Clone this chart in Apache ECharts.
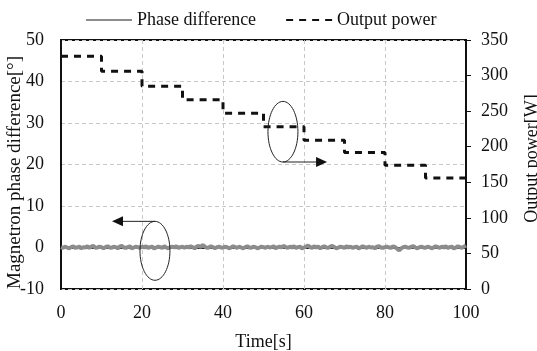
<!DOCTYPE html>
<html><head><meta charset="utf-8">
<script src="https://cdn.jsdelivr.net/npm/echarts@6/dist/echarts.min.js"></script>
<style>html,body{margin:0;padding:0;background:#fff}#c{width:537px;height:351px}</style>
</head><body><div id="c"></div>
<script>
var xTicks = [0, 20, 40, 60, 80, 100];
var powerTimes = [0, 10, 20, 30, 40, 50, 60, 70, 80, 90, 100];
var powerLevels = [327, 306, 285, 266, 247, 228, 209, 192, 174, 156, 156];
var phaseStep = 0.5;
var phaseValues = [
0.1,-0.1,0.2,0.0,-0.2,0.1,0.3,-0.1,0.0,0.2,-0.2,0.1,0.0,0.3,-0.1,0.2,0.4,-0.1,0.0,0.2,0.1,
-0.2,0.1,0.3,0.0,-0.1,0.2,0.1,-0.2,0.2,0.4,0.0,-0.1,0.1,0.3,-0.2,0.0,0.2,0.1,-0.1,0.2,
0.0,0.3,-0.1,0.1,0.2,-0.2,0.0,0.2,0.1,-0.1,0.3,0.0,-0.2,0.1,0.2,0.0,0.3,-0.1,0.1,0.2,
-0.1,0.2,0.0,0.3,0.1,-0.2,0.2,0.4,0.1,0.6,0.2,-0.1,0.0,0.3,0.1,-0.2,0.1,0.2,0.0,-0.1,
0.2,0.1,-0.2,0.0,0.3,0.1,-0.1,0.2,0.0,-0.2,0.1,0.3,0.0,-0.1,0.2,0.1,-0.2,0.0,0.2,0.1,
-0.1,0.2,0.0,0.1,0.3,-0.2,0.1,0.2,0.0,0.4,0.1,-0.1,0.2,0.0,0.3,-0.1,0.1,0.2,-0.2,0.0,
0.2,0.5,0.1,-0.1,0.3,0.0,0.2,-0.2,0.1,0.3,0.0,-0.1,0.2,0.4,0.1,-0.2,0.0,0.2,0.1,-0.1,
0.3,0.0,0.2,-0.1,0.1,0.2,-0.2,0.0,0.3,0.1,-0.1,0.2,0.0,0.1,-0.2,0.2,0.3,0.0,-0.1,0.1,
0.2,0.0,-0.1,0.3,0.1,-0.3,-0.7,-0.2,0.1,0.2,0.0,-0.1,0.2,0.3,0.0,-0.2,0.1,0.2,0.0,-0.1,
0.2,0.1,-0.2,0.0,0.3,0.1,-0.1,0.2,0.0,0.3,-0.1,0.1,0.2,-0.2,0.0,0.3,0.1,-0.1,0.2,0.5
];
var leftTicks = [-10, 0, 10, 20, 30, 40, 50];
var rightTicks = [0, 50, 100, 150, 200, 250, 300, 350];

var FONT = '"Liberation Serif","Times New Roman",serif';
var chart = echarts.init(document.getElementById('c'), null, {renderer: 'canvas'});

var phaseData = phaseValues.map(function (v, i) { return [i * phaseStep, v]; });
var powerData = powerTimes.map(function (t, i) { return [t, powerLevels[i]]; });

chart.setOption({
  animation: false,
  backgroundColor: '#fff',
  textStyle: {fontFamily: FONT, color: '#111'},
  legend: {
    top: 6, left: 80, itemWidth: 46, itemHeight: 14, itemGap: 29,
    itemStyle: {opacity: 0},
    textStyle: {fontFamily: FONT, fontSize: 18, color: '#111'},
    data: ['Phase difference', 'Output power']
  },
  grid: {left: 61, right: 71, top: 40, bottom: 62, containLabel: false, outerBoundsMode: 'none',
    show: true, borderColor: '#111', borderWidth: 2, backgroundColor: 'transparent'},
  xAxis: {
    type: 'value', min: xTicks[0], max: xTicks[xTicks.length - 1], interval: 20,
    name: 'Time[s]', nameLocation: 'middle', nameGap: 44, nameMoveOverlap: false,
    nameTextStyle: {fontFamily: FONT, fontSize: 18, color: '#111'},
    axisLine: {show: true, lineStyle: {color: '#111', width: 2}},
    axisTick: {show: false},
    axisLabel: {fontFamily: FONT, fontSize: 18, color: '#111', margin: 15},
    splitLine: {show: true, lineStyle: {color: '#c8c8c8', type: [4, 3], width: 1}}
  },
  yAxis: [{
    type: 'value', min: leftTicks[0], max: leftTicks[leftTicks.length - 1], interval: 10,
    name: 'Magnetron phase difference[°]', nameLocation: 'middle', nameGap: 36, nameRotate: 90,
    nameMoveOverlap: false,
    nameTextStyle: {fontFamily: FONT, fontSize: 19, color: '#111', padding: [0, 16, 0, 0]},
    axisLine: {show: true, lineStyle: {color: '#111', width: 2}},
    axisTick: {show: false},
    axisLabel: {fontFamily: FONT, fontSize: 18, color: '#111', margin: 17},
    splitLine: {show: true, lineStyle: {color: '#c8c8c8', type: [4, 3], width: 1}}
  }, {
    type: 'value', position: 'right', min: rightTicks[0], max: rightTicks[rightTicks.length - 1], interval: 50,
    alignTicks: false,
    name: 'Output power[W]', nameLocation: 'middle', nameGap: 57, nameRotate: 90,
    nameMoveOverlap: false,
    nameTextStyle: {fontFamily: FONT, fontSize: 18, color: '#111', padding: [0, 0, 0, 12]},
    axisLine: {show: true, lineStyle: {color: '#111', width: 2}},
    axisTick: {show: true, inside: false, length: 5, lineStyle: {color: '#111', width: 1}},
    axisLabel: {fontFamily: FONT, fontSize: 18, color: '#111', margin: 15},
    splitLine: {show: false}
  }],
  series: [{
    name: 'Phase difference', type: 'line', yAxisIndex: 0, data: phaseData,
    symbol: 'none', color: '#8c8c8c',
    lineStyle: {color: '#8c8c8c', width: 4}, z: 3
  }, {
    name: 'Output power', type: 'line', yAxisIndex: 1, data: powerData,
    symbol: 'none', step: 'end', color: '#111',
    lineStyle: {color: '#111', width: 3, type: [7, 6]}, z: 4
  }]
});

function px(t, v) { return chart.convertToPixel({xAxisIndex: 0, yAxisIndex: 0}, [t, v]); }
var e1 = px(54.8, 27.9), e1r = px(58.5, 20.6), a1end = px(65.7, 20.6);
var e2 = px(23.2, -0.8), e2r = px(26.9, 6.3), a2end = px(12.6, 6.3);
function ann(c, edge, end, dir) {
  var rx = Math.abs(edge[0] - c[0]), ry = Math.abs(edge[1] - c[1]);
  var sy = edge[1];
  var tip = end[0];
  var head = dir > 0 ? [[tip, sy], [tip - 11, sy - 5], [tip - 11, sy + 5]] : [[tip, sy], [tip + 11, sy - 5], [tip + 11, sy + 5]];
  return [
    {type: 'ellipse', shape: {cx: c[0], cy: c[1], rx: rx, ry: ry}, style: {fill: 'none', stroke: '#222', lineWidth: 1}, z: 10},
    {type: 'line', shape: {x1: c[0], y1: sy, x2: tip - dir * 8, y2: sy}, style: {stroke: '#222', lineWidth: 1}, z: 10},
    {type: 'polygon', shape: {points: head}, style: {fill: '#111'}, z: 10}
  ];
}
chart.setOption({graphic: ann(e1, e1r, a1end, 1).concat(ann(e2, e2r, a2end, -1))});
</script>
</body></html>
